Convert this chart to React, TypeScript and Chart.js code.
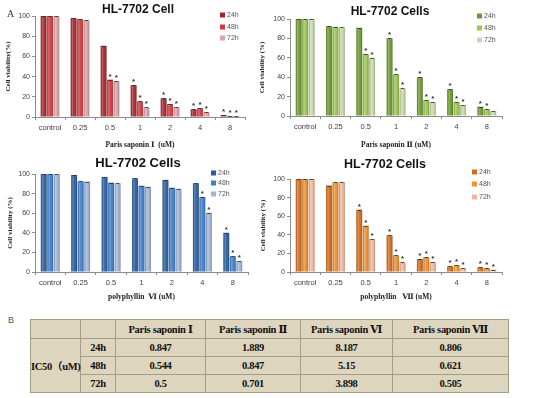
import React, { useEffect, useRef } from 'react';
import { Chart, registerables } from 'chart.js';
Chart.register(...registerables);

// ---------------- DATA ----------------
const categories = ['control', '0.25', '0.5', '1', '2', '4', '8'];
const seriesLabels = ['24h', '48h', '72h'];
const yTickValues = [0, 20, 40, 60, 80, 100];

// Paris saponin I
const ps1_24h = [100, 98, 70.5, 31.5, 18.5, 7.6, 2];
const ps1_48h = [100, 96.8, 37, 15.5, 12.8, 8.6, 1];
const ps1_72h = [100, 95.8, 35.5, 9.5, 9.8, 5, 1];
const ps1_stars24 = [0, 0, 0, 1, 1, 1, 1];
const ps1_stars48 = [0, 0, 1, 1, 1, 1, 1];
const ps1_stars72 = [0, 0, 1, 1, 1, 1, 1];

// Paris saponin II
const ps2_24h = [100, 92.5, 91, 80, 40, 27.5, 9.6];
const ps2_48h = [100, 92, 64, 43, 16.5, 14.4, 6.9];
const ps2_72h = [100, 91.4, 60, 28.5, 14.4, 11.3, 5];
const ps2_stars24 = [0, 0, 0, 1, 1, 1, 1];
const ps2_stars48 = [0, 0, 1, 1, 1, 1, 1];
const ps2_stars72 = [0, 0, 1, 1, 1, 1, 0];

// polyphyllin VI
const pp6_24h = [100, 99, 97, 95.5, 94, 90.5, 40];
const pp6_48h = [100, 92.5, 91.2, 88, 86, 76.5, 16];
const pp6_72h = [100, 92.3, 90.5, 87, 85, 60.5, 11.3];
const pp6_stars24 = [0, 0, 0, 0, 0, 0, 1];
const pp6_stars48 = [0, 0, 0, 0, 0, 1, 1];
const pp6_stars72 = [0, 0, 0, 0, 0, 1, 1];

// polyphyllin VII
const pp7_24h = [100, 93, 67, 39.5, 14, 6, 5];
const pp7_48h = [100, 96.5, 49.8, 17.8, 16, 7.5, 4];
const pp7_72h = [100, 96.5, 35.5, 10.5, 10.8, 4, 2.5];
const pp7_stars24 = [0, 0, 1, 1, 1, 1, 1];
const pp7_stars48 = [0, 0, 1, 1, 1, 1, 1];
const pp7_stars72 = [0, 0, 1, 1, 1, 1, 1];

// IC50 table
const ic50Compounds = ['Paris saponin Ⅰ', 'Paris saponin Ⅱ', 'Paris saponin Ⅵ', 'Paris saponin Ⅶ'];
const ic50Times = ['24h', '48h', '72h'];
const ic50_24h = ['0.847', '1.889', '8.187', '0.806'];
const ic50_48h = ['0.544', '0.847', '5.15', '0.621'];
const ic50_72h = ['0.5', '0.701', '3.898', '0.505'];
const ic50RowLabel = 'IC50（uM)';

// ---------------- LAYOUT / STYLE ----------------
type Panel = {
  left: number; top: number; width: number; height: number;
  area: { l: number; t: number; r: number; b: number };
  title: string; titleX: number; titleY: number; titleSize: number;
  xTitle: string; xTitleY: number; yTitle: string; yTitleX: number;
  legendX: number; legendY: number[];
  colors: string[];
  series: number[][];
  stars: number[][];
};

const panels: Panel[] = [
  {
    left: 0, top: 0, width: 255, height: 150,
    area: { l: 35, t: 16, r: 245, b: 117 },
    title: 'HL-7702 Cell', titleX: 138, titleY: 10, titleSize: 12,
    xTitle: 'Paris saponin Ⅰ  (uM)', xTitleY: 138, yTitle: 'Cell viability(%)', yTitleX: 8,
    legendX: 220, legendY: [15, 27, 38],
    colors: ['#a3232a', '#d4383d', '#dca3a6'],
    series: [ps1_24h, ps1_48h, ps1_72h],
    stars: [ps1_stars24, ps1_stars48, ps1_stars72],
  },
  {
    left: 255, top: 0, width: 295, height: 150,
    area: { l: 290, t: 19, r: 502, b: 116 },
    title: 'HL-7702 Cells', titleX: 390, titleY: 12, titleSize: 12,
    xTitle: 'Paris saponin Ⅱ (uM)', xTitleY: 141, yTitle: 'Cell viability (%)', yTitleX: 262,
    legendX: 477, legendY: [16, 28, 40],
    colors: ['#6b9a2c', '#9cc84c', '#c8dba8'],
    series: [ps2_24h, ps2_48h, ps2_72h],
    stars: [ps2_stars24, ps2_stars48, ps2_stars72],
  },
  {
    left: 0, top: 150, width: 255, height: 152,
    area: { l: 35, t: 174, r: 248, b: 272 },
    title: 'HL-7702 Cells', titleX: 138, titleY: 163, titleSize: 13,
    xTitle: 'polyphyllin  Ⅵ (uM)', xTitleY: 296, yTitle: 'Cell viability (%)', yTitleX: 10,
    legendX: 211, legendY: [173, 183, 194],
    colors: ['#285c9e', '#3c7ecd', '#a0b5d9'],
    series: [pp6_24h, pp6_48h, pp6_72h],
    stars: [pp6_stars24, pp6_stars48, pp6_stars72],
  },
  {
    left: 255, top: 150, width: 295, height: 152,
    area: { l: 290, t: 179, r: 502, b: 272 },
    title: 'HL-7702 Cells', titleX: 385, titleY: 165, titleSize: 12.5,
    xTitle: 'polyphyllin   Ⅶ (uM)', xTitleY: 295, yTitle: 'Cell viability (%)', yTitleX: 263,
    legendX: 472, legendY: [172, 184, 197],
    colors: ['#d46c18', '#f0902e', '#f2b89c'],
    series: [pp7_24h, pp7_48h, pp7_72h],
    stars: [pp7_stars24, pp7_stars48, pp7_stars72],
  },
];

const SANS = '"Liberation Sans", Arial, sans-serif';
const SERIF = '"Liberation Serif", "DejaVu Serif", "Noto Sans CJK SC", serif';
const AXIS_GREY = '#8c8c8c';

function makeDecor(p: Panel) {
  return {
    id: 'decor',
    afterDatasetsDraw(chart: any) {
      const ctx = chart.ctx;
      ctx.save();
      chart.data.datasets.forEach((_ds: any, i: number) => {
        const meta = chart.getDatasetMeta(i);
        meta.data.forEach((el: any, j: number) => {
          const { x, y, base, width } = el.getProps(['x', 'y', 'base', 'width'], true);
          const l = x - width / 2;
          const g = ctx.createLinearGradient(l, 0, l + width, 0);
          g.addColorStop(0, 'rgba(0,0,0,0.22)');
          g.addColorStop(0.3, 'rgba(255,255,255,0.28)');
          g.addColorStop(0.55, 'rgba(255,255,255,0.05)');
          g.addColorStop(1, 'rgba(0,0,0,0.28)');
          ctx.fillStyle = g;
          ctx.fillRect(l, y, width, base - y);
          // error cap
          ctx.strokeStyle = 'rgba(40,40,40,0.8)';
          ctx.lineWidth = 1;
          ctx.beginPath();
          ctx.moveTo(x - width * 0.3, Math.round(y) + 0.5);
          ctx.lineTo(x + width * 0.3, Math.round(y) + 0.5);
          ctx.stroke();
          if (p.stars[i][j]) {
            ctx.fillStyle = '#333';
            ctx.font = `bold 8px ${SANS}`;
            ctx.textAlign = 'center';
            ctx.textBaseline = 'alphabetic';
            ctx.fillText('*', x, y - 1);
          }
        });
      });
      ctx.restore();
    },
    afterDraw(chart: any) {
      const ctx = chart.ctx;
      ctx.save();
      ctx.fillStyle = '#111';
      ctx.font = `bold ${p.titleSize}px ${SANS}`;
      ctx.textAlign = 'center';
      ctx.textBaseline = 'middle';
      ctx.fillText(p.title, p.titleX - p.left, p.titleY - p.top);
      ctx.font = `7px ${SANS}`;
      ctx.textAlign = 'left';
      seriesLabels.forEach((lab, i) => {
        const yy = p.legendY[i] - p.top;
        ctx.fillStyle = p.colors[i];
        ctx.fillRect(p.legendX - p.left, yy - 2.5, 5, 5);
        ctx.fillStyle = '#555';
        ctx.fillText(lab, p.legendX - p.left + 7, yy + 0.5);
      });
      ctx.restore();
    },
  };
}

function PanelChart({ p }: { p: Panel }) {
  const ref = useRef<HTMLCanvasElement>(null);
  useEffect(() => {
    if (!ref.current) return;
    const xTitleSize = 7.5;
    const yTitleSize = 7;
    const chart = new Chart(ref.current, {
      type: 'bar',
      data: {
        labels: categories,
        datasets: seriesLabels.map((lab, i) => ({
          label: lab,
          data: p.series[i],
          backgroundColor: p.colors[i],
          borderWidth: 0,
          categoryPercentage: 0.64,
          barPercentage: 0.9,
        })),
      },
      options: {
        animation: false,
        responsive: false,
        events: [],
        layout: {
          padding: {
            top: p.area.t - p.top,
            right: p.left + p.width - p.area.r,
            left: 0,
            bottom: 0,
          },
        },
        plugins: { legend: { display: false }, title: { display: false }, tooltip: { enabled: false } },
        scales: {
          x: {
            grid: { display: true, drawOnChartArea: false, drawTicks: true, tickLength: 3, color: AXIS_GREY, offset: true },
            border: { display: true, color: AXIS_GREY, width: 1 },
            ticks: { color: '#404040', font: { family: SANS, size: 7.5 }, padding: 3, maxRotation: 0, autoSkip: false },
            title: {
              display: true, text: p.xTitle, color: '#222',
              font: { family: SERIF, size: xTitleSize, weight: 'bold' },
              padding: { top: p.top + p.height - p.xTitleY - (xTitleSize * 1.2) / 2, bottom: 0 },
            },
            afterFit: (s: any) => { s.height = p.top + p.height - p.area.b; },
          },
          y: {
            min: 0, max: 100,
            afterBuildTicks: (s: any) => { s.ticks = yTickValues.map((v) => ({ value: v })); },
            grid: { display: true, drawOnChartArea: false, drawTicks: true, tickLength: 3, color: AXIS_GREY },
            border: { display: true, color: AXIS_GREY, width: 1 },
            ticks: { color: '#404040', font: { family: SANS, size: 7 }, padding: 2 },
            title: {
              display: true, text: p.yTitle, color: '#222',
              font: { family: SERIF, size: yTitleSize, weight: 'bold' },
              padding: { top: p.yTitleX - p.left - (yTitleSize * 1.2) / 2, bottom: 0 },
            },
            afterFit: (s: any) => { s.width = p.area.l - p.left; },
          },
        },
      } as any,
      plugins: [makeDecor(p)],
    });
    return () => chart.destroy();
  }, [p]);
  return (
    <canvas
      ref={ref}
      width={p.width}
      height={p.height}
      style={{ position: 'absolute', left: p.left, top: p.top, width: p.width, height: p.height }}
    />
  );
}

function IC50Table() {
  const cell: React.CSSProperties = {
    border: '1px solid #a79d84',
    padding: 0,
    textAlign: 'center',
    verticalAlign: 'middle',
  };
  const rows = [ic50_24h, ic50_48h, ic50_72h];
  const colW = [50, 35, 90, 95, 92, 116];
  return (
    <table
      style={{
        position: 'absolute', left: 30, top: 319, width: 478, height: 73,
        borderCollapse: 'collapse', background: '#ddd5bd', tableLayout: 'fixed',
        fontFamily: SERIF, fontWeight: 'bold', fontSize: 10.5, color: '#111', letterSpacing: -0.3,
      }}
    >
      <colgroup>
        {colW.map((w, i) => <col key={i} style={{ width: w }} />)}
      </colgroup>
      <tbody>
        <tr style={{ height: 19 }}>
          <td style={cell}></td>
          <td style={cell}></td>
          {ic50Compounds.map((c) => <td key={c} style={cell}>{c}</td>)}
        </tr>
        {rows.map((r, i) => (
          <tr key={i} style={{ height: 18 }}>
            {i === 0 && <td style={{ ...cell, whiteSpace: 'nowrap' }} rowSpan={3}>{ic50RowLabel}</td>}
            <td style={cell}>{ic50Times[i]}</td>
            {r.map((v, k) => <td key={k} style={cell}>{v}</td>)}
          </tr>
        ))}
      </tbody>
    </table>
  );
}

export default function App() {
  return (
    <div style={{ position: 'absolute', left: 0, top: 0, width: 550, height: 398, background: '#fff', overflow: 'hidden' }}>
      {panels.map((p, i) => <PanelChart key={i} p={p} />)}
      <div style={{ position: 'absolute', left: 7, top: 8, fontFamily: SERIF, fontSize: 10, color: '#333' }}>A</div>
      <div style={{ position: 'absolute', left: 8, top: 315, fontFamily: SANS, fontSize: 9, color: '#555' }}>B</div>
      <IC50Table />
    </div>
  );
}
